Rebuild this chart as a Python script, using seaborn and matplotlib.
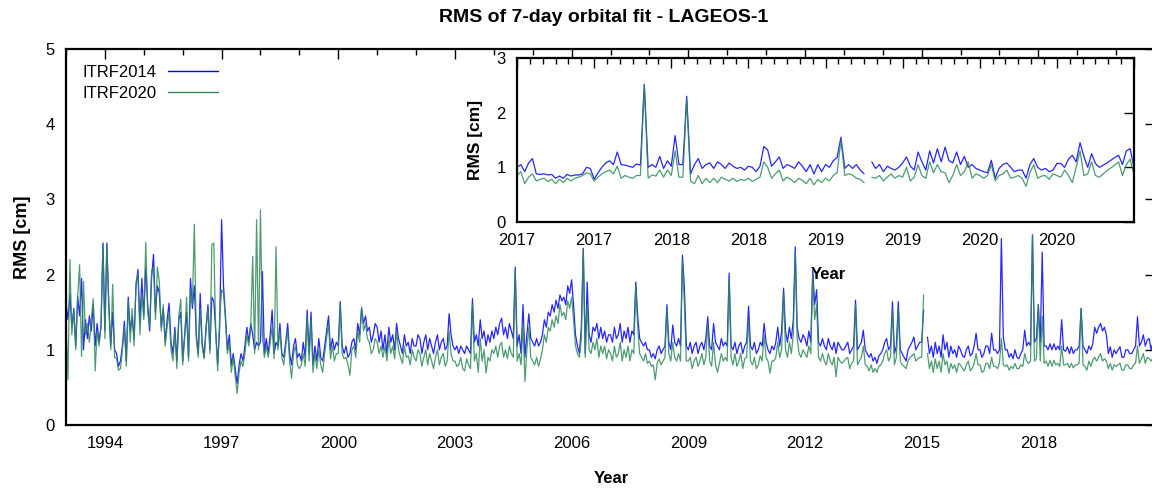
import numpy as np
import pandas as pd
import matplotlib
matplotlib.use("Agg")
import matplotlib.pyplot as plt
from matplotlib.lines import Line2D
from matplotlib.ticker import MultipleLocator
import seaborn as sns

nan = np.nan

# RMS of the 7-day arcs [cm], every 0.05 yr from 1993.0
itrf2014 = [
    1.62, 1.40, 1.75, 1.30, 1.55, 1.05, 1.71, 1.45, 1.95, 1.00, 1.40, 1.15, 1.45, 1.25, 1.60, 1.05, 1.35, 1.10, 1.30, 2.42,  # 1993
    1.25, 2.42, 1.62, 1.05, 1.50, 1.00, 0.95, 0.78, 0.85, 1.05, 1.38, 0.85, 1.70, 1.25, 1.45, 1.15, 1.85, 2.07, 1.35, 1.95,  # 1994
    1.45, 2.10, 1.60, 1.25, 1.95, 2.27, 1.50, 1.85, 1.75, 1.30, 1.55, 1.10, 1.40, 1.62, 1.10, 0.95, 1.30, 0.85, 1.40, 1.50,  # 1995
    0.85, 1.20, 1.50, 0.90, 1.95, 1.55, 1.85, 1.20, 0.95, 1.75, 1.10, 0.90, 1.30, 1.60, 1.00, 1.70, 1.65, 1.25, 0.80, 1.30,  # 1996
    2.73, 1.85, 1.45, 1.00, 1.20, 0.80, 0.95, 0.75, 0.55, 0.80, 0.95, 0.85, 1.05, 1.30, 1.10, 1.35, 1.20, 1.00, 1.10, 1.05,  # 1997
    1.10, 2.04, 0.95, 1.15, 0.95, 1.20, 1.53, 0.95, 1.10, 1.05, 1.35, 0.95, 0.90, 1.10, 1.35, 0.95, 0.80, 1.05, 1.15, 0.90,  # 1998
    0.95, 0.85, 1.10, 0.90, 1.53, 0.95, 1.50, 0.80, 1.05, 0.85, 1.15, 0.90, 0.85, 1.05, 1.25, 1.45, 1.00, 1.15, 1.00, 1.10,  # 1999
    1.05, 1.64, 1.05, 0.95, 1.05, 0.90, 0.95, 1.10, 1.15, 1.00, 1.35, 1.20, 1.55, 1.35, 1.45, 1.25, 1.30, 1.10, 1.20, 1.35,  # 2000
    1.30, 1.10, 1.25, 1.00, 1.20, 0.95, 1.30, 1.10, 1.20, 1.00, 1.35, 1.15, 1.05, 0.95, 1.20, 1.05, 1.10, 0.95, 1.15, 1.05,  # 2001
    1.05, 1.20, 1.15, 0.95, 1.10, 1.20, 1.00, 1.15, 1.05, 0.95, 1.10, 1.20, 1.00, 1.10, 1.15, 1.00, 1.05, 1.48, 1.20, 1.05,  # 2002
    1.00, 1.05, 0.95, 1.05, 1.00, 0.95, 1.05, 1.00, 0.95, 1.68, 1.10, 1.20, 1.05, 1.40, 1.15, 1.25, 1.05, 1.20, 1.10, 1.25,  # 2003
    1.15, 1.30, 1.20, 1.35, 1.42, 1.20, 1.30, 1.15, 1.35, 1.25, 1.15, 2.10, 1.05, 1.20, 0.95, 1.60, 0.90, 1.20, 1.48, 1.15,  # 2004
    1.10, 1.05, 1.15, 1.05, 1.10, 1.20, 1.40, 1.30, 1.50, 1.45, 1.60, 1.50, 1.66, 1.55, 1.73, 1.65, 1.70, 1.60, 1.85, 1.75,  # 2005
    1.93, 1.60, 1.20, 1.05, 0.95, 1.30, 2.35, 0.95, 1.90, 1.20, 1.10, 1.30, 1.25, 1.35, 1.15, 1.30, 1.15, 1.25, 1.10, 1.20,  # 2006
    1.20, 1.10, 1.30, 1.15, 1.20, 1.35, 1.10, 1.25, 1.15, 1.30, 1.10, 1.25, 1.20, 1.90, 1.44, 1.15, 1.10, 1.05, 1.10, 1.00,  # 2007
    1.00, 0.90, 0.95, 0.88, 1.00, 1.05, 0.95, 1.00, 1.05, 1.60, 1.10, 1.00, 1.33, 1.10, 1.05, 1.15, 1.05, 2.26, 1.82, 1.05,  # 2008
    1.00, 1.10, 0.95, 1.05, 1.10, 0.95, 1.05, 1.10, 1.00, 1.15, 1.44, 1.05, 1.00, 1.35, 1.10, 1.05, 1.00, 1.15, 1.05, 1.10,  # 2009
    1.05, 2.02, 1.05, 1.00, 1.10, 0.95, 1.05, 1.10, 0.95, 1.05, 1.10, 1.58, 1.05, 1.00, 1.10, 0.95, 1.00, 1.10, 1.05, 1.35,  # 2010
    1.10, 1.00, 0.95, 1.05, 1.00, 1.10, 1.30, 1.05, 1.25, 1.82, 1.25, 1.10, 1.30, 1.15, 1.40, 2.37, 1.30, 1.15, 1.10, 1.20,  # 2011
    1.15, 1.05, 1.25, 1.10, 2.06, 1.60, 1.80, 1.10, 1.05, 1.15, 1.05, 1.00, 1.15, 1.05, 1.00, 1.10, 0.95, 1.10, 1.05, 1.00,  # 2012
    1.00, 1.05, 1.10, 0.95, 1.00, 1.05, 1.66, 1.00, 1.05, 1.10, 1.26, 1.00, 0.95, 0.90, 0.95, 0.85, 0.90, 0.82, 0.92, 0.95,  # 2013
    1.00, 1.10, 1.15, 1.00, 1.05, 1.64, 0.95, 1.05, 1.64, 1.00, 0.95, 0.90, 0.85, 1.00, 1.05, 1.10, 1.17, 1.00, 1.05, 1.10,  # 2014
    1.10, 1.53, nan, 1.17, 0.95, 1.05, 0.90, 1.10, 0.95, 1.05, 0.90, 1.20, 1.00, 1.10, 0.90, 1.05, 0.95, 1.00, 0.90, 1.05,   # 2015
    1.00, 0.92, 0.90, 1.00, 1.05, 0.92, 0.95, 1.05, 1.22, 1.00, 1.00, 0.90, 0.95, 1.05, 1.05, 0.95, 1.22, 1.00, 1.00, 0.95,  # 2016
    1.00, 2.48, 1.17, 1.00, 1.00, 0.90, 0.95, 0.88, 1.00, 0.90, 0.88, 0.95, 1.00, 1.26, 1.05, 1.10, 1.05, 2.53, 1.10, 1.15,  # 2017
    1.60, 1.10, 2.30, 1.05, 1.05, 1.00, 1.08, 1.00, 1.08, 1.00, 1.05, 1.00, 1.40, 1.00, 0.98, 1.04, 0.95, 1.04, 0.95, 1.00,  # 2018
    1.00, 1.05, 1.55, 1.05, 1.00, 0.95, 1.05, 1.00, 1.08, 1.30, 1.22, 1.30, 1.35, 1.25, 1.30, 1.20, 0.95, 1.04, 0.90, 1.00,  # 2019
    0.95, 1.00, 1.04, 0.90, 0.90, 1.00, 1.00, 0.95, 0.95, 1.00, 1.05, 1.44, 1.05, 1.10, 1.20, 1.05, 1.13, 1.15, 1.00, 1.10,  # 2020
]
itrf2020 = [
    1.35, 0.60, 2.20, 1.20, 1.53, 1.00, 1.71, 2.13, 0.91, 1.91, 1.20, 1.35, 1.10, 1.40, 1.68, 0.72, 1.25, 1.05, 1.35, 2.40,  # 1993
    1.15, 2.40, 1.55, 1.00, 1.87, 0.90, 0.88, 0.73, 0.75, 1.00, 1.30, 0.78, 1.65, 1.10, 1.55, 1.05, 1.90, 2.00, 1.20, 1.75,  # 1994
    1.40, 2.43, 1.50, 1.30, 2.05, 2.10, 1.40, 2.10, 1.90, 1.25, 1.60, 1.05, 1.30, 1.50, 1.00, 0.85, 1.25, 0.75, 1.45, 1.67,  # 1995
    0.80, 1.15, 1.70, 0.85, 1.80, 1.60, 2.67, 1.15, 0.90, 1.55, 1.05, 0.88, 1.25, 1.55, 0.95, 2.40, 2.42, 1.20, 0.72, 1.40,  # 1996
    1.80, 1.75, 1.40, 0.95, 1.10, 0.70, 0.90, 0.65, 0.42, 0.70, 0.85, 0.78, 0.95, 1.20, 1.05, 1.30, 2.24, 0.95, 2.73, 1.00,  # 1997
    2.86, 1.20, 0.90, 1.05, 0.90, 1.10, 1.30, 0.88, 2.37, 1.00, 1.25, 0.90, 0.80, 1.05, 1.25, 0.85, 0.62, 0.95, 1.05, 0.80,  # 1998
    0.75, 0.80, 0.95, 0.78, 1.45, 0.85, 1.40, 0.70, 0.95, 0.75, 1.00, 0.80, 0.70, 0.95, 1.15, 1.35, 0.88, 1.05, 0.85, 0.95,  # 1999
    0.95, 1.60, 0.95, 0.88, 0.90, 0.80, 0.66, 1.00, 1.05, 0.90, 1.25, 1.10, 1.57, 1.25, 1.35, 1.15, 1.10, 0.95, 1.00, 1.15,  # 2000
    1.10, 0.95, 1.05, 0.90, 1.05, 0.85, 1.15, 0.95, 1.05, 0.88, 1.25, 1.00, 0.90, 0.82, 1.05, 0.90, 0.92, 0.80, 1.00, 0.90,  # 2001
    0.85, 1.00, 0.95, 0.78, 0.90, 1.00, 0.80, 0.95, 0.85, 0.75, 0.90, 1.00, 0.80, 0.90, 0.95, 0.78, 0.85, 1.25, 0.95, 0.85,  # 2002
    0.85, 0.78, 0.80, 0.90, 0.75, 0.72, 0.88, 0.80, 0.75, 1.60, 0.85, 0.95, 0.70, 1.15, 0.85, 1.00, 0.69, 0.90, 0.85, 1.00,  # 2003
    0.95, 1.05, 0.90, 1.05, 1.10, 0.90, 1.00, 0.88, 1.05, 0.95, 0.90, 2.05, 0.85, 0.95, 0.80, 1.35, 0.58, 1.00, 1.30, 0.90,  # 2004
    0.85, 0.80, 0.90, 0.78, 0.88, 1.00, 1.20, 1.10, 1.30, 1.25, 1.40, 1.30, 1.45, 1.35, 1.60, 1.45, 1.50, 1.40, 1.65, 1.55,  # 2005
    1.70, 1.40, 1.05, 0.95, 0.90, 1.15, 2.33, 0.90, 1.60, 1.00, 0.95, 1.10, 1.00, 1.15, 0.90, 1.05, 0.95, 1.05, 0.88, 1.00,  # 2006
    0.95, 0.85, 1.05, 0.90, 0.95, 1.10, 0.85, 1.00, 0.90, 1.05, 0.85, 1.00, 0.95, 1.85, 1.30, 0.95, 0.90, 0.85, 0.95, 0.82,  # 2007
    0.85, 0.78, 0.80, 0.60, 0.82, 0.88, 0.80, 0.85, 0.90, 1.55, 0.95, 0.85, 1.10, 0.90, 0.85, 0.95, 0.85, 2.20, 1.60, 0.85,  # 2008
    0.85, 0.90, 0.75, 0.85, 0.90, 0.78, 0.85, 0.95, 0.80, 0.90, 1.35, 0.85, 0.78, 1.10, 0.80, 0.70, 0.82, 0.95, 0.85, 0.90,  # 2009
    0.85, 1.95, 0.90, 0.80, 0.95, 0.78, 0.85, 0.95, 0.75, 0.88, 0.90, 1.40, 0.85, 0.80, 0.90, 0.75, 0.80, 0.92, 0.85, 1.20,  # 2010
    0.90, 0.85, 0.69, 0.85, 0.85, 0.90, 1.10, 0.90, 1.00, 1.75, 1.00, 0.90, 1.10, 0.95, 1.20, 2.30, 1.15, 0.95, 0.90, 1.00,  # 2011
    0.95, 0.90, 1.05, 0.95, 2.00, 1.40, 1.60, 0.90, 0.85, 0.95, 0.85, 0.80, 0.95, 0.85, 0.80, 0.90, 0.64, 0.90, 0.85, 0.82,  # 2012
    0.85, 0.88, 0.90, 0.75, 0.82, 0.85, 1.60, 0.80, 0.85, 0.90, 1.05, 0.80, 0.78, 0.72, 0.80, 0.70, 0.75, 0.70, 0.78, 0.80,  # 2013
    0.85, 0.95, 1.00, 0.85, 0.90, 1.55, 0.80, 0.90, 1.55, 0.85, 0.80, 0.78, 0.75, 0.85, 0.90, 0.92, 0.95, 0.85, 0.88, 0.90,  # 2014
    0.90, 1.73, nan, 0.95, 0.75, 0.85, 0.70, 0.88, 0.75, 0.85, 0.70, 0.95, 0.80, 0.85, 0.69, 0.82, 0.75, 0.80, 0.70, 0.82,   # 2015
    0.80, 0.75, 0.72, 0.80, 0.85, 0.72, 0.75, 0.82, 0.95, 0.80, 0.80, 0.70, 0.72, 0.82, 0.82, 0.75, 0.90, 0.78, 0.78, 0.75,  # 2016
    0.82, 1.15, 0.80, 0.78, 0.80, 0.73, 0.78, 0.75, 0.82, 0.75, 0.75, 0.80, 0.78, 0.95, 0.85, 0.82, 0.85, 2.53, 0.85, 0.88,  # 2017
    1.60, 0.85, 1.45, 0.82, 0.85, 0.78, 0.86, 0.78, 0.86, 0.80, 0.82, 0.78, 1.05, 0.80, 0.80, 0.82, 0.76, 0.82, 0.76, 0.80,  # 2018
    0.80, 0.82, 1.55, 0.80, 0.78, 0.73, 0.85, 0.78, 0.86, 0.90, 0.85, 0.90, 0.95, 0.85, 0.88, 0.85, 0.75, 0.82, 0.73, 0.80,  # 2019
    0.78, 0.80, 0.82, 0.73, 0.73, 0.80, 0.80, 0.75, 0.75, 0.80, 0.82, 1.05, 0.82, 0.88, 0.95, 0.82, 0.90, 0.88, 0.85, 0.90,  # 2020
]

# zoom on 2017-2020, every 0.025 yr from 2017.0
inset2014 = [
    1.00, 1.05, 0.92, 1.08, 1.16, 0.88, 0.87, 0.88, 0.86, 0.87,
    0.80, 0.84, 0.80, 0.87, 0.84, 0.86, 0.86, 0.88, 1.00, 0.98,
    0.78, 0.90, 1.00, 1.08, 1.12, 1.05, 1.28, 1.05, 1.04, 1.02,
    1.00, 1.06, 1.04, 2.52, 1.00, 1.05, 1.00, 1.20, 0.98, 1.12,
    1.02, 1.58, 1.05, 1.05, 2.30, 0.88, 1.05, 1.16, 0.98, 1.05,
    1.08, 0.98, 1.10, 1.05, 0.98, 1.08, 1.02, 0.98, 1.00, 0.95,
    1.02, 1.00, 0.92, 1.02, 1.38, 1.32, 1.02, 1.10, 1.19, 0.98,
    1.05, 1.02, 0.98, 1.10, 1.02, 0.92, 1.05, 0.88, 1.05, 0.92,
    1.05, 1.00, 1.12, 1.18, 1.55, 0.98, 1.05, 0.98, 1.05, 0.95,
    0.88, nan, 1.10, 0.98, 1.05, 0.92, 1.02, 0.98, 0.95, 1.00,
    1.08, 1.19, 1.02, 0.95, 1.28, 1.10, 0.95, 1.30, 1.08, 1.34,
    1.10, 1.37, 1.12, 1.08, 1.28, 1.05, 1.20, 1.00, 1.05, 0.98,
    0.95, 0.92, 0.90, 1.13, 0.80, 0.98, 1.05, 1.08, 1.00, 0.92,
    0.95, 0.95, 0.80, 1.05, 1.16, 1.00, 0.95, 0.98, 0.92, 0.95,
    1.07, 1.07, 1.00, 1.15, 1.22, 1.10, 1.45, 1.20, 1.00, 1.25,
    1.07, 1.00, 1.04, 1.08, 1.13, 1.18, 1.22, 1.05, 1.30, 1.34,
    1.00,
]
inset2020 = [
    0.85, 0.92, 0.70, 0.82, 0.88, 0.75, 0.78, 0.80, 0.74, 0.78,
    0.70, 0.78, 0.72, 0.80, 0.75, 0.80, 0.82, 0.85, 0.90, 0.88,
    0.75, 0.82, 0.88, 0.92, 0.95, 0.88, 1.02, 0.80, 0.85, 0.82,
    0.80, 0.85, 0.85, 2.50, 0.80, 0.86, 0.84, 0.95, 0.82, 0.95,
    0.85, 1.30, 0.82, 0.82, 2.25, 0.75, 0.70, 0.85, 0.70, 0.80,
    0.72, 0.80, 0.72, 0.82, 0.78, 0.75, 0.80, 0.74, 0.78, 0.76,
    0.80, 0.74, 0.78, 0.82, 1.10, 1.00, 0.80, 0.88, 0.95, 0.75,
    0.82, 0.78, 0.72, 0.80, 0.76, 0.70, 0.80, 0.68, 0.78, 0.72,
    0.80, 0.75, 0.85, 0.90, 1.50, 0.85, 0.88, 0.86, 0.80, 0.78,
    0.72, nan, 0.82, 0.80, 0.85, 0.75, 0.82, 0.88, 0.80, 0.85,
    0.82, 1.00, 0.75, 0.82, 1.05, 0.85, 0.80, 1.10, 0.90, 1.05,
    0.92, 0.90, 0.72, 0.85, 1.05, 0.85, 0.92, 1.10, 0.80, 0.88,
    0.85, 0.80, 0.85, 1.05, 0.75, 0.85, 0.88, 0.95, 0.80, 0.82,
    0.85, 0.80, 0.65, 0.90, 1.05, 0.80, 0.84, 0.85, 0.78, 0.88,
    0.85, 0.82, 0.95, 0.85, 0.72, 1.00, 1.30, 0.85, 0.88, 1.10,
    0.85, 0.82, 0.88, 0.94, 0.99, 1.04, 1.10, 0.85, 1.05, 1.15,
    0.85,
]

inset_ticks = ["2017", "2017", "2018", "2018", "2019", "2019", "2020", "2020", ""]
colors = {"ITRF2014": "#0000ff", "ITRF2020": "#2e8b57"}


def long_table(start, step, v14, v20):
    if len(v14) != len(v20):
        raise ValueError(f"length mismatch {len(v14)} vs {len(v20)}")
    n = len(v14)
    t = start + step * np.arange(n)
    d = pd.DataFrame({"year": np.r_[t, t],
                      "rms": np.r_[v14, v20],
                      "frame": ["ITRF2014"] * n + ["ITRF2020"] * n})
    # gaps in the series -> separate line pieces
    d["seg"] = d.groupby("frame")["rms"].transform(lambda s: s.isna().cumsum())
    return d.dropna()


def style_axes(ax):
    for s in ax.spines.values():
        s.set_linewidth(1.6)
        s.set_color("black")
    ax.tick_params(which="both", direction="in", top=True, right=True,
                   width=1.0, colors="black", labelsize=12, pad=8)
    ax.tick_params(which="major", length=7)
    ax.tick_params(which="minor", length=4)
    ax.grid(False)


sns.set_style("white")
plt.rcParams["font.family"] = ["Liberation Sans", "DejaVu Sans"]
plt.rcParams["text.color"] = "black"
plt.rcParams["axes.labelcolor"] = "black"

main = long_table(1993.0, 0.05, itrf2014, itrf2020)
zoom = long_table(2017.0, 0.025, inset2014, inset2020)

fig = plt.figure(figsize=(11.52, 4.88), dpi=100)
ax = fig.add_axes([0.0573, 0.1291, 0.9453, 0.7705])
sns.lineplot(data=main, x="year", y="rms", hue="frame", units="seg",
             estimator=None, sort=False, palette=colors, lw=0.9, alpha=0.85,
             legend=False, ax=ax)
ax.set_xlim(1993.0, 2021.0)
ax.set_ylim(0, 5)
ax.set_xticks(range(1994, 2020, 3))
ax.xaxis.set_minor_locator(MultipleLocator(1))
ax.set_yticks(range(0, 6))
style_axes(ax)
ax.set_xlabel("Year", fontsize=12, fontweight="bold")
ax.set_ylabel("RMS [cm]", fontsize=13, fontweight="bold")
ax.xaxis.label.set_va("center")
ax.yaxis.label.set_va("center")
ax.xaxis.set_label_coords(0.5005, -0.141)
ax.yaxis.set_label_coords(-0.0404, 0.5)
fig.text(0.524, 1 - 18 / 488, "RMS of 7-day orbital fit - LAGEOS-1",
         ha="center", va="center", fontsize=14, fontweight="bold")

handles = [Line2D([], [], color=colors[k], lw=1.0) for k in colors]
ax.legend(handles, list(colors), loc="upper left", bbox_to_anchor=(0.0147, 0.957),
          markerfirst=False, frameon=False, fontsize=12, handlelength=3.0,
          handletextpad=0.7, labelspacing=0.35, borderaxespad=0, borderpad=0)

ins = fig.add_axes([0.4488, 0.5451, 0.5356, 0.3361])
ins.set_facecolor("white")
sns.lineplot(data=zoom, x="year", y="rms", hue="frame", units="seg",
             estimator=None, sort=False, palette=colors, lw=0.9, alpha=0.85,
             legend=False, ax=ins)
ins.set_xlim(2017.0, 2021.0)
ins.set_ylim(0, 3)
ins.set_xticks(2017.0 + 0.5 * np.arange(len(inset_ticks)))
ins.set_xticklabels(inset_ticks)
ins.xaxis.set_minor_locator(MultipleLocator(1 / 12))
ins.set_yticks(range(0, 4))
style_axes(ins)
ins.set_xlabel("Year", fontsize=12, fontweight="bold")
ins.set_ylabel("RMS [cm]", fontsize=12.5, fontweight="bold")
ins.xaxis.label.set_va("center")
ins.yaxis.label.set_va("center")
ins.xaxis.set_label_coords(0.504, -0.323)
ins.yaxis.set_label_coords(-0.068, 0.5)

fig.savefig("out.png", dpi=100)
